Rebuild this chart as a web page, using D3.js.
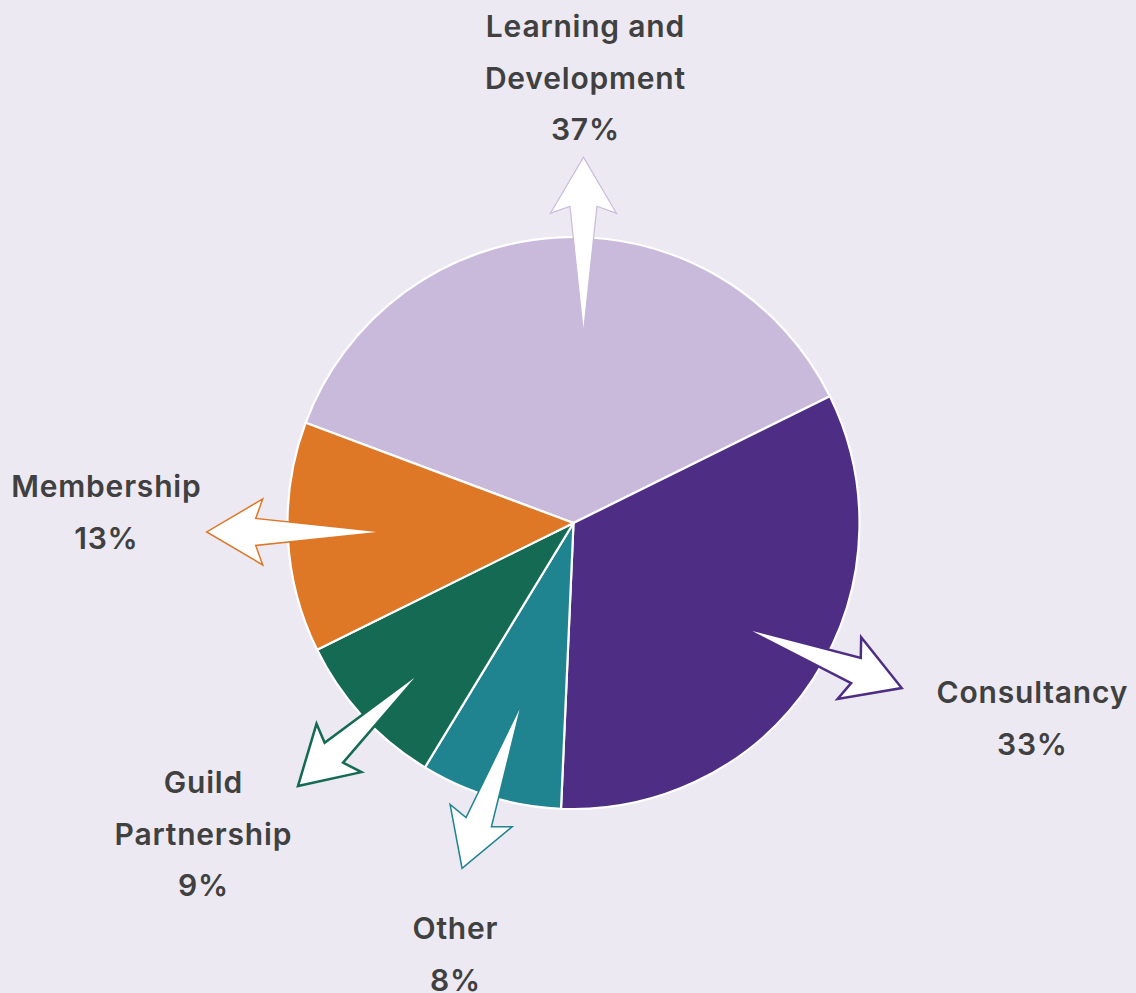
<!DOCTYPE html>
<html>
<head>
<meta charset="utf-8">
<script src="https://cdn.jsdelivr.net/npm/d3@7"></script>
<style>
  html, body { margin: 0; padding: 0; background: #ECE9F2; }
  svg { display: block; }
  text { font-family: Inter, "Open Sans", sans-serif; font-weight: 600; fill: #404040; letter-spacing: 0.8px; }
</style>
</head>
<body>
<svg id="chart" width="1136" height="993"></svg>
<script>
// ---- data ----
const categories = ["Learning and Development", "Consultancy", "Other", "Guild Partnership", "Membership"];
const values = [37, 33, 8, 9, 13];
const labelLines = [["Learning and", "Development"], ["Consultancy"], ["Other"], ["Guild", "Partnership"], ["Membership"]];
const colors = ["#C9BADB", "#4E2D84", "#1F8390", "#146A52", "#DE7726"];

// ---- layout (callout arrows & labels) ----
const cx = 573.5, cy = 523, R = 286;
const startDeg = -69.5;
// tail angle (deg, clockwise from 12 o'clock), tail radius, arrow direction (deg), arrow length
const calloutTailAng = [3, 121.7, 196, 225.7, 267.3];
const calloutTailR = [190, 198, 187, 211, 190];
const calloutDir = [0, 110.9, 199.9, 227.1, 270];
const calloutLen = [176, 171, 176, 170, 177];
const calloutStroke = [1.2, 2.5, 1.5, 2.5, 1.5];
const labelX = [585, 1032, 455, 203, 106];
const labelTopBaseline = [37, 703, 939, 793, 497];
const lineH = 51.5;

const svg = d3.select("#chart");
const g = svg.append("g").attr("transform", `translate(${cx},${cy})`);

const toRad = d => d * Math.PI / 180;
const pie = d3.pie().sort(null).value(d => d)
  .startAngle(toRad(startDeg)).endAngle(toRad(startDeg) + 2 * Math.PI);
const arcs = pie(values);
const arc = d3.arc().innerRadius(0).outerRadius(R);
const color = d3.scaleOrdinal().domain(categories).range(colors);

g.selectAll("path.slice").data(arcs).join("path")
  .attr("class", "slice")
  .attr("d", arc)
  .attr("fill", (d, i) => color(categories[i]))
  .attr("stroke", "#FFFFFF")
  .attr("stroke-width", 2.2)
  .attr("stroke-linejoin", "round");

// arrows
function arrowPath(i) {
  const ta = toRad(calloutTailAng[i]);
  const tx = calloutTailR[i] * Math.sin(ta), ty = -calloutTailR[i] * Math.cos(ta);
  const da = toRad(calloutDir[i]);
  const ux = Math.sin(da), uy = -Math.cos(da);
  const vx = -uy, vy = ux;
  const L = calloutLen[i];
  const shape = [[0, 0], [L - 49, -13.5], [L - 56, -33], [L, 0], [L - 56, 33], [L - 49, 13.5]];
  const pts = shape.map(([u, v]) => [tx + u * ux + v * vx, ty + u * uy + v * vy]);
  return d3.line()(pts) + "Z";
}
g.selectAll("path.arrow").data(arcs).join("path")
  .attr("class", "arrow")
  .attr("d", (d, i) => arrowPath(i))
  .attr("fill", "#FFFFFF")
  .attr("stroke", (d, i) => color(categories[i]))
  .attr("stroke-width", (d, i) => calloutStroke[i])
  .attr("stroke-linejoin", "miter");

// labels
const fmt = d3.format(".0%");
const total = d3.sum(values);
categories.forEach((c, i) => {
  const lines = labelLines[i].concat([fmt(values[i] / total)]);
  const t = svg.append("text")
    .attr("text-anchor", "middle")
    .attr("font-size", 30);
  lines.forEach((ln, k) => {
    t.append("tspan").attr("x", labelX[i] + 0.4).attr("y", labelTopBaseline[i] + k * lineH).text(ln);
  });
});
</script>
</body>
</html>
